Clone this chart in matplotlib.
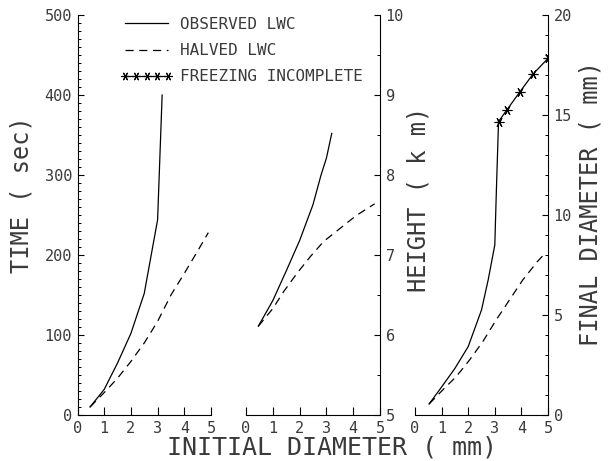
import matplotlib
matplotlib.use("Agg")
import matplotlib.pyplot as plt
from matplotlib.lines import Line2D
from matplotlib.ticker import MultipleLocator

plt.rcParams['font.family'] = ['DejaVu Sans Mono', 'DejaVu Sans']

# panel 1: growth time (sec) vs initial diameter (mm)
time_obs_d = [0.47, 1.0, 1.5, 2.0, 2.5, 3.0, 3.17]
time_obs = [10, 32, 65, 102, 152, 244, 400]
time_half_d = [0.47, 1.0, 1.5, 2.0, 2.5, 3.0, 3.5, 4.0, 4.5, 4.9]
time_half = [10, 28, 46, 67, 90, 117, 150, 177, 205, 228]

# panel 2: height (km)
hgt_obs_d = [0.46, 1.0, 1.5, 2.0, 2.5, 2.8, 3.0, 3.2]
hgt_obs = [6.11, 6.43, 6.80, 7.18, 7.63, 8.00, 8.21, 8.52]
hgt_half_d = [0.46, 1.0, 1.4, 1.9, 2.4, 2.9, 3.5, 4.1, 4.8]
hgt_half = [6.11, 6.33, 6.54, 6.77, 6.98, 7.17, 7.33, 7.49, 7.64]

# panel 3: final diameter (mm)
fin_obs_d = [0.53, 1.0, 1.5, 2.0, 2.5, 2.75, 3.0, 3.06, 3.14]
fin_obs = [0.55, 1.4, 2.33, 3.42, 5.25, 6.75, 8.5, 11.25, 14.67]
fin_frz_d = [3.14, 3.45, 3.95, 4.44, 5.0]
fin_frz = [14.67, 15.25, 16.17, 17.05, 17.83]
fin_half_d = [0.53, 1.1, 1.55, 2.05, 2.55, 3.05, 3.55, 4.05, 4.6, 4.9]
fin_half = [0.55, 1.33, 1.92, 2.75, 3.67, 4.75, 5.75, 6.75, 7.67, 8.1]

W, H = 610, 461
fig = plt.figure(figsize=(W / 100, H / 100), dpi=100)

bot = (H - 415) / H
hgt = 400 / H
ax1 = fig.add_axes([77.5 / W, bot, 133.5 / W, hgt])
ax2 = fig.add_axes([246 / W, bot, 134 / W, hgt])
ax3 = fig.add_axes([415 / W, bot, 133 / W, hgt])

lw = 0.9
dash = (0, (6.5, 4.5))
mk = (6, 2, 90)
tcol = '#3a3a3a'

ax1.plot(time_obs_d, time_obs, color='black', lw=lw)
ax1.plot(time_half_d, time_half, color='black', lw=lw, linestyle=dash)

ax2.plot(hgt_obs_d, hgt_obs, color='black', lw=lw)
ax2.plot(hgt_half_d, hgt_half, color='black', lw=lw, linestyle=dash)

ax3.plot(fin_obs_d, fin_obs, color='black', lw=lw)
ax3.plot(fin_frz_d, fin_frz, color='black', lw=lw, marker=mk, ms=7, mew=0.8)
ax3.plot(fin_half_d, fin_half, color='black', lw=lw, linestyle=dash)

for ax in (ax1, ax2, ax3):
    ax.patch.set_visible(False)
    ax.set_xlim(0, 5)
    ax.xaxis.set_major_locator(MultipleLocator(1))
    ax.tick_params(axis='x', direction='in', length=5.5, width=0.8,
                   labelsize=11, labelcolor=tcol, pad=4)
    ax.spines['top'].set_visible(False)
    for s in ax.spines.values():
        s.set_linewidth(0.8)

ax1.set_ylim(0, 500)
ax1.spines['right'].set_visible(False)
ax1.yaxis.set_major_locator(MultipleLocator(100))
ax1.yaxis.set_minor_locator(MultipleLocator(10))

ax2.set_ylim(5, 10)
ax2.yaxis.set_major_locator(MultipleLocator(1))
ax2.yaxis.set_minor_locator(MultipleLocator(0.5))

ax3.set_ylim(0, 20)
ax3.yaxis.set_major_locator(MultipleLocator(5))
ax3.yaxis.set_minor_locator(MultipleLocator(1))

for ax in (ax2, ax3):
    ax.spines['left'].set_visible(False)
    ax.yaxis.tick_right()
    ax.yaxis.set_label_position('right')

for ax in (ax1, ax2, ax3):
    ax.tick_params(axis='y', which='major', direction='in', length=4.5,
                   width=0.8, labelsize=11, labelcolor=tcol, pad=4)
    ax.tick_params(axis='y', which='minor', direction='in', length=2.5,
                   width=0.7)

ax1.set_ylabel('TIME ( sec)', fontsize=17, color=tcol)
ax1.yaxis.set_label_coords(-0.33, 0.55)
ax2.set_ylabel('HEIGHT ( k m)', fontsize=17, color=tcol, rotation=90)
ax2.yaxis.set_label_coords(1.2, 0.54)
ax3.set_ylabel('FINAL DIAMETER ( mm)', fontsize=17, color=tcol, rotation=90)
ax3.yaxis.set_label_coords(1.23, 0.53)

fig.text(332 / W, 1 - 447 / H, 'INITIAL DIAMETER ( mm)', fontsize=18,
         color=tcol, ha='center', va='center')

handles = [
    Line2D([], [], color='black', lw=lw),
    Line2D([], [], color='black', lw=lw, linestyle=dash),
    Line2D([], [], color='black', lw=lw, marker=mk, ms=6, mew=0.8),
]
labels = ['OBSERVED LWC', 'HALVED LWC', 'FREEZING INCOMPLETE']
ax1.legend(handles, labels, loc='upper left', bbox_to_anchor=(0.32, 0.995),
           frameon=False, fontsize=11.5, numpoints=5, handlelength=3.3,
           handletextpad=0.45, labelspacing=0.7, borderpad=0,
           borderaxespad=0, labelcolor=tcol)

fig.savefig('out.png', dpi=100)
